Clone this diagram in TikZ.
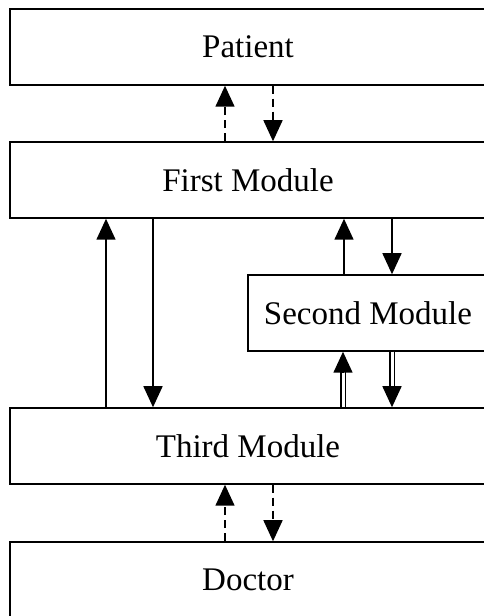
\documentclass[tikz,border=0pt]{standalone}
\usepackage{fontspec}
\setmainfont{Liberation Serif}
\usetikzlibrary{arrows.meta}
\usetikzlibrary{calc}

\tikzset{
    modbox/.style={draw, line width=1.5pt, minimum width=476pt, minimum height=76pt, inner sep=0pt, font=\fontsize{33}{40}\selectfont},
    solidarr/.style={line width=1.5pt, -{Triangle[length=21pt, width=19pt]}},
    dasharr/.style={solidarr, dash pattern=on 8pt off 5pt},
    dblline/.style={line width=1.1pt, double, double distance=3pt, shorten >=19pt}
}

\begin{document}
\begin{tikzpicture}[x=1pt, y=1pt]
    \useasboundingbox (0,0) rectangle (484,616);
    \clip (0,0) rectangle (484,616);

    % boxes
    \node[modbox] (patient) at (248, 569) {Patient};
    \node[modbox] (first) at (248, 436) {First Module};
    \node[modbox, minimum width=240pt] (second) at (368, 303) {Second Module};
    \node[modbox] (third) at (248, 170) {Third Module};
    \node[modbox] (doctor) at (248, 36) {Doctor};

    % end points on the third module
    \coordinate (tl) at ([xshift=-25pt]second.south |- third.north);
    \coordinate (tr) at ([xshift=24pt]second.south |- third.north);

    % patient <-> first
    \draw[dasharr] ([xshift=-23pt]first.north) -- ([xshift=-23pt]patient.south);
    \draw[dasharr] ([xshift=25pt]patient.south) -- ([xshift=25pt]first.north);
    % first <-> third
    \draw[solidarr] ([xshift=-142pt]third.north) -- ([xshift=-142pt]first.south);
    \draw[solidarr] ([xshift=-95pt]first.south) -- ([xshift=-95pt]third.north);
    % first <-> second
    \draw[solidarr] ([xshift=-24pt]second.north) -- ([xshift=-24pt]second.north |- first.south);
    \draw[solidarr] ([xshift=24pt]second.north |- first.south) -- ([xshift=24pt]second.north);
    % second <-> third, double lines
    \draw[dblline] (tl) -- ([xshift=-25pt]second.south);
    \draw[solidarr] ($([xshift=-25pt]second.south)+(0,-21)$) -- ([xshift=-25pt]second.south);
    \draw[dblline] ([xshift=24pt]second.south) -- (tr);
    \draw[solidarr] ($(tr)+(0,21)$) -- (tr);
    % third <-> doctor
    \draw[dasharr] ([xshift=-23pt]doctor.north) -- ([xshift=-23pt]third.south);
    \draw[dasharr] ([xshift=25pt]third.south) -- ([xshift=25pt]doctor.north);
\end{tikzpicture}
\end{document}
